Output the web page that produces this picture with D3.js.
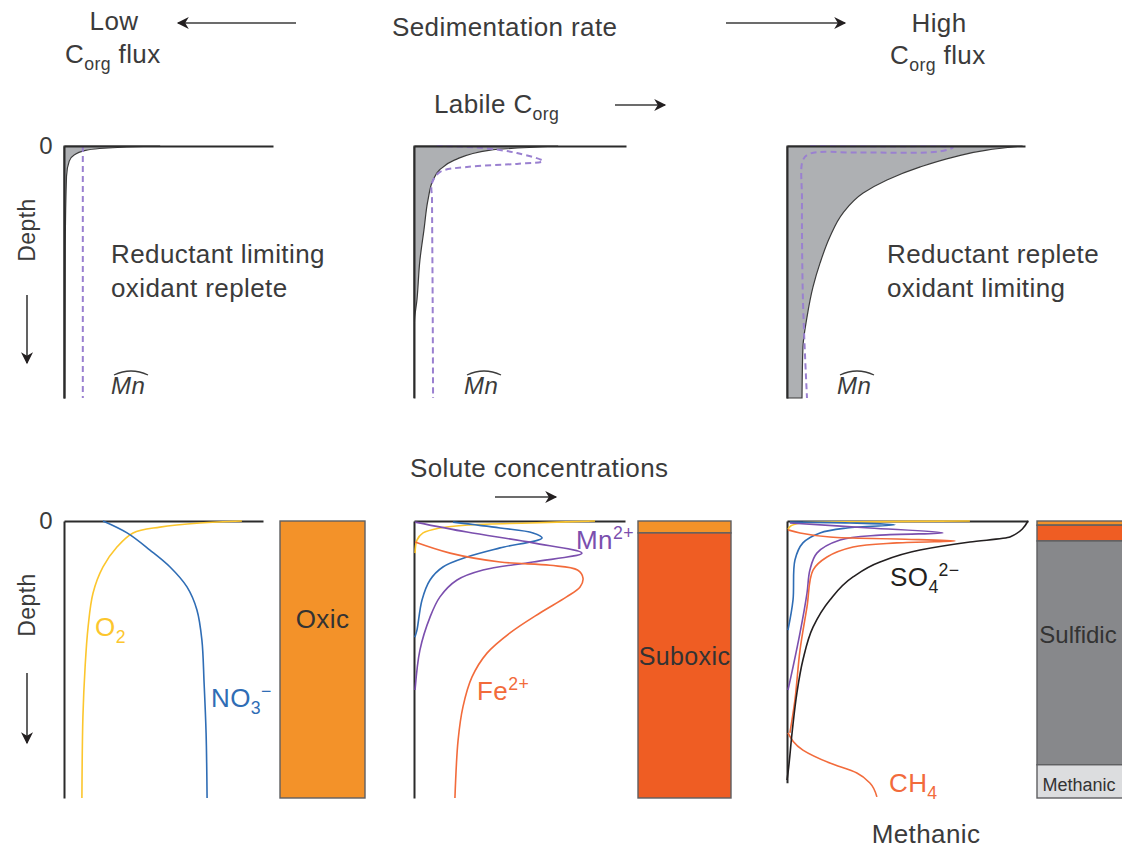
<!DOCTYPE html>
<html>
<head>
<meta charset="utf-8">
<script src="https://cdn.jsdelivr.net/npm/d3@7"></script>
<style>
  body { margin: 0; background: #fff; }
  svg text { font-family: "Liberation Sans", Arial, Helvetica, sans-serif; letter-spacing: 0.4px; }
</style>
</head>
<body>
<div id="vis"></div>
<script>
//data: profiles as [concentration (0-1), depth (0-1)]----

// top row: organic carbon (grey) and solid Mn (dashed)
const corgLow = [[0.46,0],[0.30,0.004],[0.17,0.01],[0.09,0.02],[0.05,0.035],[0.025,0.06],[0.012,0.12],[0.006,0.4],[0.004,1]]
const mnLow = [[0.09,0],[0.09,1]]

const corgMid = [[0.68,0],[0.36,0.016],[0.19,0.056],[0.12,0.095],[0.09,0.135],[0.066,0.214],[0.047,0.333],[0.028,0.452],[0.014,0.61],[0.002,0.70],[0,1]]
const mnMid = [[0.108,0],[0.325,0.008],[0.486,0.028],[0.608,0.06],[0.486,0.071],[0.25,0.083],[0.123,0.103],[0.085,0.147],[0.085,0.214],[0.088,0.611],[0.09,1]]

const corgHigh = [[0.99,0],[0.84,0.016],[0.70,0.044],[0.56,0.083],[0.42,0.135],[0.32,0.187],[0.235,0.266],[0.18,0.361],[0.139,0.464],[0.109,0.56],[0.084,0.679],[0.067,0.798],[0.063,1]]
const mnHigh = [[0.097,0],[0.40,0.002],[0.697,0.006],[0.64,0.022],[0.30,0.026],[0.097,0.03],[0.067,0.056],[0.063,0.214],[0.067,0.611],[0.084,1]]

// bottom row: solutes
const o2Oxic = [[0.894,0],[0.683,0.007],[0.482,0.022],[0.347,0.043],[0.266,0.094],[0.196,0.166],[0.146,0.26],[0.121,0.383],[0.106,0.527],[0.095,0.708],[0.09,1]]
const no3Oxic = [[0.196,0],[0.317,0.043],[0.432,0.105],[0.533,0.166],[0.618,0.238],[0.668,0.321],[0.693,0.43],[0.704,0.585],[0.714,0.765],[0.719,1]]

const o2Suboxic = [[0.858,0],[0.55,0.007],[0.265,0.014],[0.123,0.025],[0.043,0.043],[0.014,0.069],[0.005,0.116]]
const no3Suboxic = [[0.185,0.004],[0.408,0.025],[0.564,0.043],[0.607,0.061],[0.408,0.097],[0.251,0.13],[0.137,0.166],[0.076,0.213],[0.038,0.285],[0.014,0.394],[0.004,0.42]]
const mnSuboxic = [[0.005,0.004],[0.251,0.04],[0.564,0.079],[0.796,0.116],[0.564,0.148],[0.327,0.177],[0.204,0.213],[0.123,0.274],[0.076,0.347],[0.028,0.466],[0.005,0.61]]
const feSuboxic = [[0.005,0.076],[0.171,0.116],[0.408,0.148],[0.645,0.16],[0.775,0.177],[0.801,0.206],[0.787,0.238],[0.723,0.274],[0.597,0.332],[0.455,0.404],[0.346,0.477],[0.275,0.563],[0.232,0.671],[0.209,0.791],[0.194,1]]

const o2Sulfidic = [[0.759,0],[0.3,0.003],[0.06,0.007],[0.015,0.018],[0.004,0.03]]
const no3Sulfidic = [[0.012,0.004],[0.261,0.007],[0.448,0.014],[0.249,0.025],[0.137,0.043],[0.066,0.079],[0.033,0.141],[0.025,0.285],[0.004,0.394]]
const mnSulfidic = [[0.012,0.007],[0.344,0.025],[0.647,0.043],[0.386,0.051],[0.22,0.069],[0.124,0.116],[0.095,0.177],[0.083,0.26],[0.054,0.404],[0.025,0.527],[0.004,0.61]]
const feSulfidic = [[0.004,0.032],[0.054,0.043],[0.178,0.058],[0.456,0.065],[0.697,0.072],[0.456,0.079],[0.274,0.094],[0.166,0.13],[0.108,0.177],[0.083,0.31],[0.054,0.466],[0.033,0.646],[0.012,0.765]]
const so4Sulfidic = [[1,0],[0.925,0.058],[0.759,0.076],[0.552,0.105],[0.386,0.148],[0.274,0.202],[0.178,0.285],[0.108,0.383],[0.066,0.502],[0.041,0.621],[0.021,0.765],[0.004,0.91],[0,0.935]]
const ch4Sulfidic = [[0.004,0.765],[0.066,0.827],[0.178,0.874],[0.29,0.91],[0.344,0.946],[0.373,0.996]]

// redox zones: [name, top depth, bottom depth]
const zonesOxic = [["Oxic",0,1]]
const zonesSuboxic = [["Oxic",0,0.043],["Suboxic",0.043,1]]
const zonesSulfidic = [["Oxic",0,0.015],["Suboxic",0.015,0.072],["Sulfidic",0.072,0.88],["Methanic",0.88,1]]

//styles----
const textColor = "#3b3b3b"
const colors = {
    corg: "#aeb0b3", mnSolid: "#9a80d0",
    o2: "#fcc62d", no3: "#2f6db5", mn: "#7b4fae", fe: "#f26b3b", so4: "#231f20", ch4: "#f26b3b",
    Oxic: "#f39229", Suboxic: "#ef5d23", Sulfidic: "#87888b", Methanic: "#dcdddf"
}

//canvas----
const wrapper = d3.select("#vis").append("svg")
    .attr("width", 1122)
    .attr("height", 848)

wrapper.append("defs").append("marker")
    .attr("id", "arrow")
    .attr("viewBox", "0 0 10 10")
    .attr("refX", 9).attr("refY", 5)
    .attr("markerWidth", 14).attr("markerHeight", 12)
    .attr("markerUnits", "userSpaceOnUse")
    .attr("orient", "auto")
    .append("path")
    .attr("d", "M0,0 L10,5 L0,10 L3,5 Z")
    .attr("fill", "#231f20")

//scales----
const topY = d3.scaleLinear().domain([0, 1]).range([146, 398])
const botY = d3.scaleLinear().domain([0, 1]).range([521, 798])

const panels = {
    low:      {x: d3.scaleLinear().domain([0,1]).range([64, 273]),  y: topY, zero: true,  axisEnd: 1},
    mid:      {x: d3.scaleLinear().domain([0,1]).range([414, 626]), y: topY, zero: false, axisEnd: 1},
    high:     {x: d3.scaleLinear().domain([0,1]).range([787, 1025]), y: topY, zero: false, axisEnd: 1},
    oxic:     {x: d3.scaleLinear().domain([0,1]).range([64, 263]),  y: botY, zero: true,  axisEnd: 1},
    suboxic:  {x: d3.scaleLinear().domain([0,1]).range([414, 625]), y: botY, zero: false, axisEnd: 1},
    sulfidic: {x: d3.scaleLinear().domain([0,1]).range([787, 1028]), y: botY, zero: false, axisEnd: 0.945}
}

//helpers----
function richText(sel, x, y, parts, fs, color, anchor) {
    const t = sel.append("text")
        .attr("x", x).attr("y", y)
        .attr("font-size", fs)
        .attr("fill", color)
        .attr("text-anchor", anchor || "start")
    let shift = 0
    parts.forEach(([str, kind]) => {
        const target = kind === "sub" ? 0.27 * fs : kind === "sup" ? -0.4 * fs : 0
        t.append("tspan")
            .attr("dy", target - shift)
            .attr("font-size", kind ? fs * 0.68 : fs)
            .text(str)
        shift = target
    })
    return t
}

function arrow(x1, y1, x2, y2) {
    wrapper.append("line")
        .attr("x1", x1).attr("y1", y1).attr("x2", x2).attr("y2", y2)
        .attr("stroke", "#3b3b3b").attr("stroke-width", 1.6)
        .attr("marker-end", "url(#arrow)")
}

function drawAxes(p) {
    const g = wrapper.append("g")
    const yAxisScale = p.y.copy().domain([0, p.axisEnd]).range([p.y(0), p.y(p.axisEnd)])
    const yAxis = d3.axisLeft(yAxisScale)
        .tickValues(p.zero ? [0] : [])
        .tickFormat(d3.format("d"))
        .tickSize(0).tickSizeOuter(0).tickPadding(11)
    const yg = g.append("g")
        .attr("transform", `translate(${p.x(0)},0)`)
        .call(yAxis)
    yg.selectAll("text").attr("font-size", 24).attr("fill", textColor)
        .style("font-family", '"Liberation Sans", Arial, sans-serif')
    const xAxis = d3.axisTop(p.x).tickValues([]).tickSizeOuter(0)
    g.append("g")
        .attr("transform", `translate(0,${p.y(0)})`)
        .call(xAxis)
    g.selectAll(".domain").attr("stroke", "#2b2b2b").attr("stroke-width", 2)
}

function drawCorg(p, data) {
    const area = d3.area()
        .x0(p.x(0))
        .x1(d => p.x(d[0]))
        .y(d => p.y(d[1]))
        .curve(d3.curveMonotoneY)
    wrapper.append("path")
        .datum(data)
        .attr("d", area)
        .attr("fill", colors.corg)
        .attr("stroke", "#3b3b3b")
        .attr("stroke-width", 1.2)
}

function drawLine(p, data, color, dashed, monotone) {
    const line = d3.line()
        .x(d => p.x(d[0]))
        .y(d => p.y(d[1]))
        .curve(monotone ? d3.curveMonotoneY : d3.curveCatmullRom.alpha(0.5))
    wrapper.append("path")
        .datum(data)
        .attr("d", line)
        .attr("fill", "none")
        .attr("stroke", color)
        .attr("stroke-width", dashed ? 2 : 1.6)
        .attr("stroke-dasharray", dashed ? "6,4" : null)
}

function drawColumn(x0, x1, zones, labelSizes) {
    const xs = d3.scaleLinear().domain([0, 1]).range([x0, x1])
    const g = wrapper.append("g")
    g.selectAll("rect")
        .data(zones)
        .join("rect")
        .attr("x", xs(0))
        .attr("width", xs(1) - xs(0))
        .attr("y", d => botY(d[1]))
        .attr("height", d => botY(d[2]) - botY(d[1]))
        .attr("fill", d => colors[d[0]])
        .attr("stroke", "#5e5f61")
        .attr("stroke-width", 1.4)
    g.selectAll("text")
        .data(zones.filter(d => labelSizes[d[0]]))
        .join("text")
        .attr("x", d => xs(0.5) + (labelSizes[d[0]].dx || 0))
        .attr("y", d => labelSizes[d[0]].y)
        .attr("text-anchor", "middle")
        .attr("font-size", d => labelSizes[d[0]].fs)
        .style("letter-spacing", d => labelSizes[d[0]].ls || null)
        .attr("fill", "#333")
        .text(d => d[0])
}

function mnHat(x, y) {
    const g = wrapper.append("g")
    g.append("text")
        .attr("x", x).attr("y", y)
        .attr("font-size", 24)
        .attr("font-style", "italic")
        .attr("fill", textColor)
        .text("Mn")
    g.append("path")
        .attr("d", `M${x + 3},${y - 19} Q${x + 20},${y - 27} ${x + 37},${y - 19}`)
        .attr("fill", "none")
        .attr("stroke", textColor)
        .attr("stroke-width", 1.3)
}

//top header----
wrapper.append("text").attr("x", 114).attr("y", 30).attr("text-anchor", "middle")
    .attr("font-size", 26).attr("fill", textColor).text("Low")
richText(wrapper, 65, 63, [["C"], ["org", "sub"], [" flux"]], 26, textColor)
arrow(296, 23, 178, 23)
wrapper.append("text").attr("x", 392).attr("y", 36)
    .attr("font-size", 26).attr("fill", textColor).text("Sedimentation rate")
arrow(726, 23, 845, 23)
wrapper.append("text").attr("x", 939).attr("y", 32).attr("text-anchor", "middle")
    .attr("font-size", 26).attr("fill", textColor).text("High")
richText(wrapper, 890, 64, [["C"], ["org", "sub"], [" flux"]], 26, textColor)
richText(wrapper, 434, 113, [["Labile C"], ["org", "sub"]], 26, textColor)
arrow(615, 105, 665, 105)

//depth labels----
;[[230, 295, 363], [605, 673, 743]].forEach(([cy, a1, a2]) => {
    wrapper.append("text")
        .attr("transform", `translate(35,${cy}) rotate(-90)`)
        .attr("text-anchor", "middle")
        .attr("font-size", 23).attr("fill", textColor)
        .text("Depth")
    arrow(27, a1, 27, a2)
})

//top row panels----
drawCorg(panels.low, corgLow)
drawCorg(panels.mid, corgMid)
drawCorg(panels.high, corgHigh)
drawLine(panels.low, mnLow, colors.mnSolid, true)
drawLine(panels.mid, mnMid, colors.mnSolid, true)
drawLine(panels.high, mnHigh, colors.mnSolid, true)
drawAxes(panels.low)
drawAxes(panels.mid)
drawAxes(panels.high)

;[[111, 263, "Reductant limiting"], [111, 297, "oxidant replete"],
  [887, 263, "Reductant replete"], [887, 297, "oxidant limiting"]].forEach(([x, y, s]) => {
    wrapper.append("text").attr("x", x).attr("y", y)
        .attr("font-size", 26).attr("fill", textColor).text(s)
})
mnHat(111, 394)
mnHat(464, 394)
mnHat(837, 394)

//bottom row----
wrapper.append("text").attr("x", 410).attr("y", 477)
    .attr("font-size", 26).attr("fill", textColor).text("Solute concentrations")
arrow(495, 497, 556, 497)

drawAxes(panels.oxic)
drawAxes(panels.suboxic)
drawAxes(panels.sulfidic)

drawLine(panels.oxic, o2Oxic, colors.o2)
drawLine(panels.oxic, no3Oxic, colors.no3)

drawLine(panels.suboxic, o2Suboxic, colors.o2)
drawLine(panels.suboxic, no3Suboxic, colors.no3)
drawLine(panels.suboxic, mnSuboxic, colors.mn)
drawLine(panels.suboxic, feSuboxic, colors.fe)

drawLine(panels.sulfidic, o2Sulfidic, colors.o2)
drawLine(panels.sulfidic, no3Sulfidic, colors.no3)
drawLine(panels.sulfidic, mnSulfidic, colors.mn)
drawLine(panels.sulfidic, feSulfidic, colors.fe)
drawLine(panels.sulfidic, ch4Sulfidic, colors.ch4, false, true)
drawLine(panels.sulfidic, so4Sulfidic, colors.so4, false, true)

// solute labels
richText(wrapper, 95, 636, [["O"], ["2", "sub"]], 26, colors.o2)
richText(wrapper, 211, 707, [["NO"], ["3", "sub"], ["\u2212", "sup"]], 26, colors.no3)
richText(wrapper, 576, 549, [["Mn"], ["2+", "sup"]], 26, colors.mn)
richText(wrapper, 477, 700, [["Fe"], ["2+", "sup"]], 26, colors.fe)
richText(wrapper, 890, 586, [["SO"], ["4", "sub"], ["2\u2212", "sup"]], 26, "#231f20")
richText(wrapper, 889, 792, [["CH"], ["4", "sub"]], 26, colors.ch4)
wrapper.append("text").attr("x", 926).attr("y", 843).attr("text-anchor", "middle")
    .attr("font-size", 26).attr("fill", textColor).text("Methanic")

// redox columns
drawColumn(280, 365, zonesOxic, {Oxic: {y: 628, fs: 26}})
drawColumn(638, 731, zonesSuboxic, {Suboxic: {y: 665, fs: 25}})
drawColumn(1037, 1127, zonesSulfidic, {
    Sulfidic: {y: 643, fs: 24, dx: -4, ls: "0px"},
    Methanic: {y: 791, fs: 18, dx: -3, ls: "0px"}
})
</script>
</body>
</html>
